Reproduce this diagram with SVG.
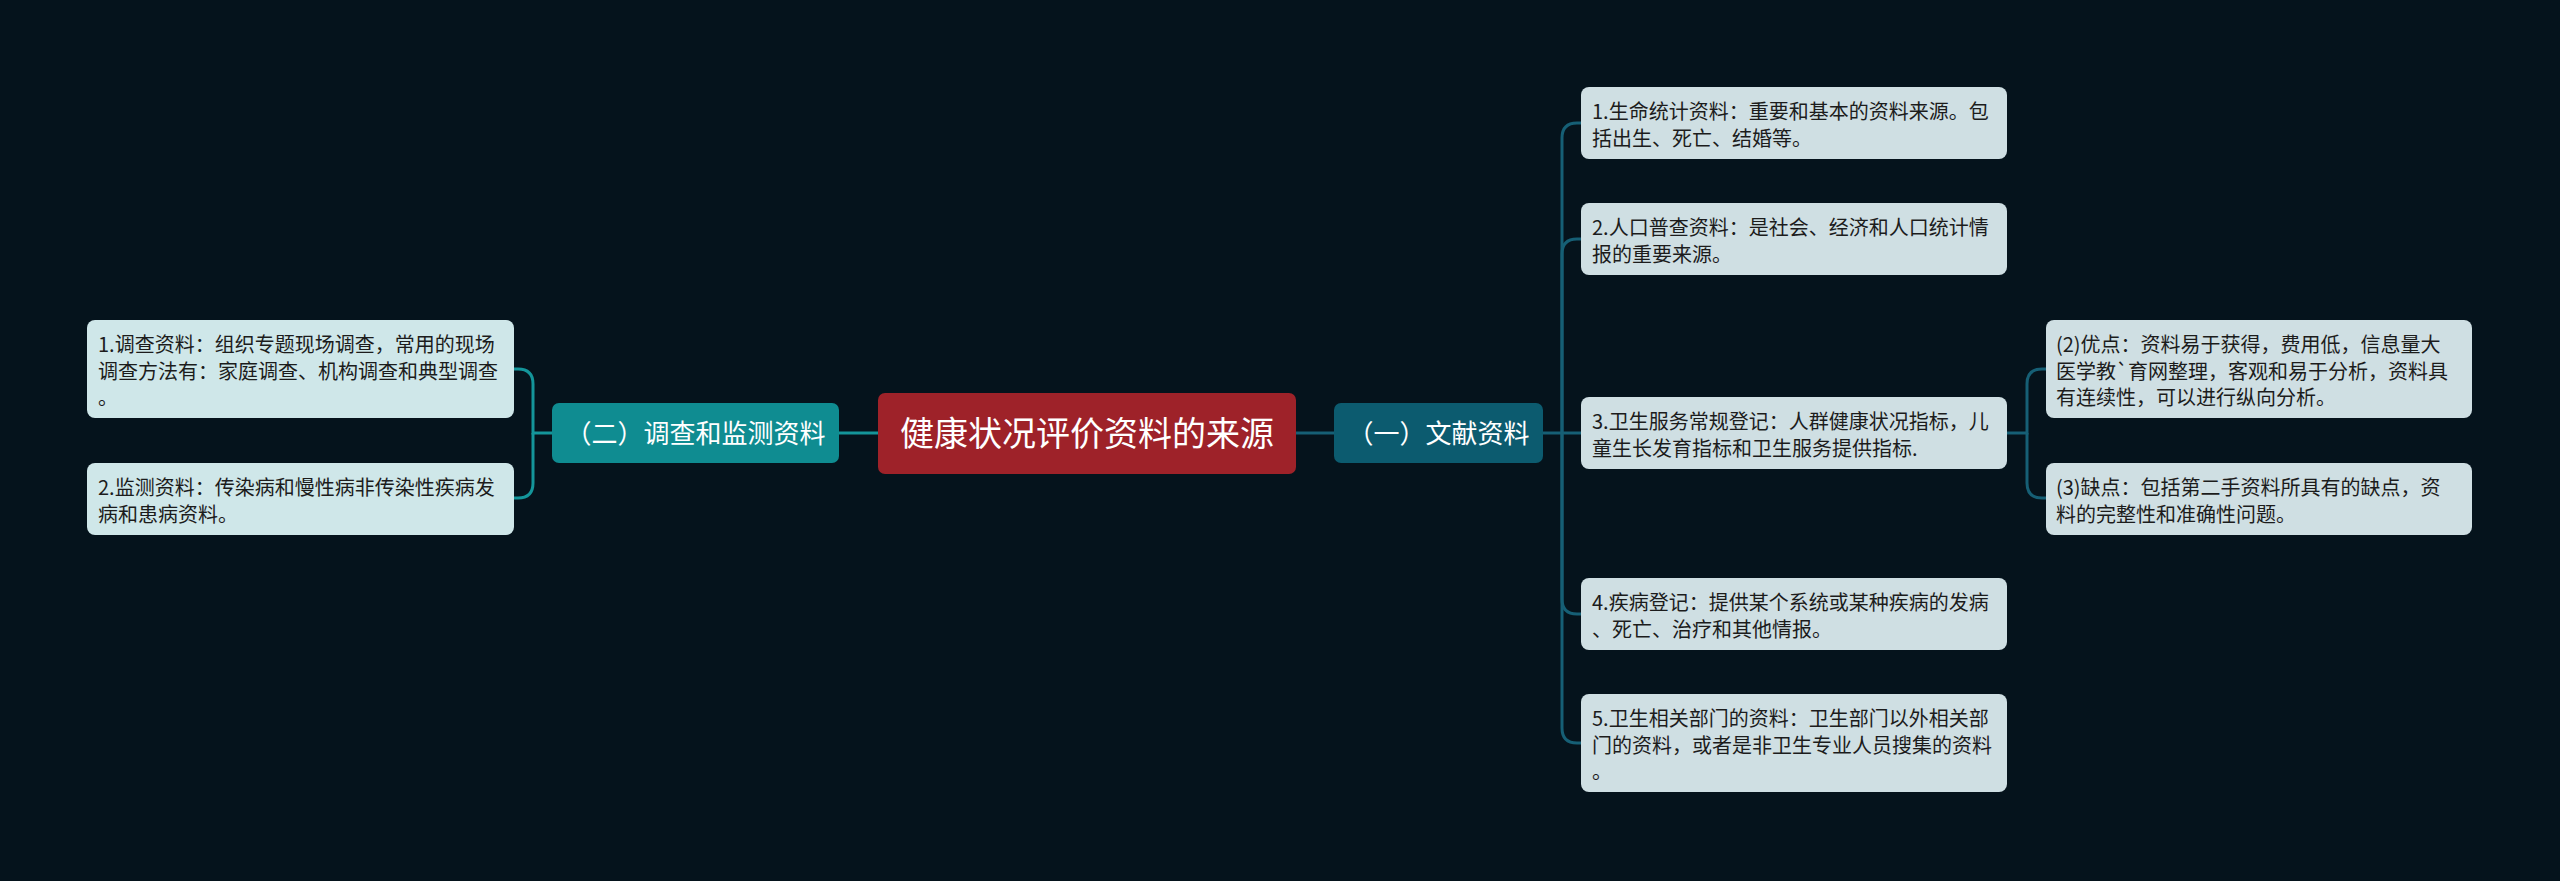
<svg xmlns="http://www.w3.org/2000/svg" width="2560" height="881" viewBox="0 0 2560 881">
<style>
.bg{fill:#05131c}
.leafL{fill:#cfe7e9}
.leafR{fill:#cfdfe3}
.lt{font-family:"Noto Sans CJK SC","Noto Sans",sans-serif;font-size:20px;fill:#1c1c1c}
.nt{font-family:"Noto Sans CJK SC","Noto Sans",sans-serif;fill:#ffffff;text-anchor:middle}
.cl{fill:none;stroke:#14959a;stroke-width:3}
.cr{fill:none;stroke:#165f75;stroke-width:3}
</style>
<rect class="bg" x="0" y="0" width="2560" height="881"/>
<g id="connectors">
<path class="cl" d="M878,433 H839"/>
<path class="cl" d="M552,433 H533 V384 Q533,369 518,369 H514"/>
<path class="cl" d="M533,433 V483 Q533,498 518,498 H514"/>
<path class="cr" d="M1295,433 H1334"/>
<path class="cr" d="M1543,433 H1581"/>
<path class="cr" d="M1562,433 V138 Q1562,123 1577,123 H1581"/>
<path class="cr" d="M1562,433 V254 Q1562,239 1577,239 H1581"/>
<path class="cr" d="M1562,433 V599 Q1562,614 1577,614 H1581"/>
<path class="cr" d="M1562,433 V728 Q1562,743 1577,743 H1581"/>
<path class="cr" d="M2007,433 H2027 V384 Q2027,369 2042,369 H2046"/>
<path class="cr" d="M2027,433 V483 Q2027,498 2042,498 H2046"/>
</g>
<g id="root">
<rect x="878" y="393" width="418" height="81" rx="7" fill="#9e2229"/>
<text class="nt" x="1087" y="446" font-size="34">健康状况评价资料的来源</text>
</g>
<g id="branch2">
<rect x="552" y="403" width="287" height="60" rx="7" fill="#0f8c91"/>
<text class="nt" x="695.5" y="443" font-size="26">（二）调查和监测资料</text>
</g>
<g id="branch1">
<rect x="1334" y="403" width="209" height="60" rx="7" fill="#0c5b6f"/>
<text class="nt" x="1438.5" y="443" font-size="26">（一）文献资料</text>
</g>
<g id="left1">
<rect class="leafL" x="87" y="320" width="427" height="98" rx="8"/>
<text class="lt" x="98" y="352">1.调查资料：组织专题现场调查，常用的现场</text>
<text class="lt" x="98" y="378.5">调查方法有：家庭调查、机构调查和典型调查</text>
<text class="lt" x="98" y="405">。</text>
</g>
<g id="left2">
<rect class="leafL" x="87" y="463" width="427" height="72" rx="8"/>
<text class="lt" x="98" y="495">2.监测资料：传染病和慢性病非传染性疾病发</text>
<text class="lt" x="98" y="521.5">病和患病资料。</text>
</g>
<g id="right1">
<rect class="leafR" x="1581" y="87" width="426" height="72" rx="8"/>
<text class="lt" x="1592" y="119">1.生命统计资料：重要和基本的资料来源。包</text>
<text class="lt" x="1592" y="145.5">括出生、死亡、结婚等。</text>
</g>
<g id="right2">
<rect class="leafR" x="1581" y="203" width="426" height="72" rx="8"/>
<text class="lt" x="1592" y="235">2.人口普查资料：是社会、经济和人口统计情</text>
<text class="lt" x="1592" y="261.5">报的重要来源。</text>
</g>
<g id="right3">
<rect class="leafR" x="1581" y="397" width="426" height="72" rx="8"/>
<text class="lt" x="1592" y="429">3.卫生服务常规登记：人群健康状况指标，儿</text>
<text class="lt" x="1592" y="455.5">童生长发育指标和卫生服务提供指标.</text>
</g>
<g id="right4">
<rect class="leafR" x="1581" y="578" width="426" height="72" rx="8"/>
<text class="lt" x="1592" y="610">4.疾病登记：提供某个系统或某种疾病的发病</text>
<text class="lt" x="1592" y="636.5">、死亡、治疗和其他情报。</text>
</g>
<g id="right5">
<rect class="leafR" x="1581" y="694" width="426" height="98" rx="8"/>
<text class="lt" x="1592" y="726">5.卫生相关部门的资料：卫生部门以外相关部</text>
<text class="lt" x="1592" y="752.5">门的资料，或者是非卫生专业人员搜集的资料</text>
<text class="lt" x="1592" y="779">。</text>
</g>
<g id="sub2">
<rect class="leafR" x="2046" y="320" width="426" height="98" rx="8"/>
<text class="lt" x="2056" y="352">(2)优点：资料易于获得，费用低，信息量大</text>
<text class="lt" x="2056" y="378.5">医学教`育网整理，客观和易于分析，资料具</text>
<text class="lt" x="2056" y="405">有连续性，可以进行纵向分析。</text>
</g>
<g id="sub3">
<rect class="leafR" x="2046" y="463" width="426" height="72" rx="8"/>
<text class="lt" x="2056" y="495">(3)缺点：包括第二手资料所具有的缺点，资</text>
<text class="lt" x="2056" y="521.5">料的完整性和准确性问题。</text>
</g>
</svg>
